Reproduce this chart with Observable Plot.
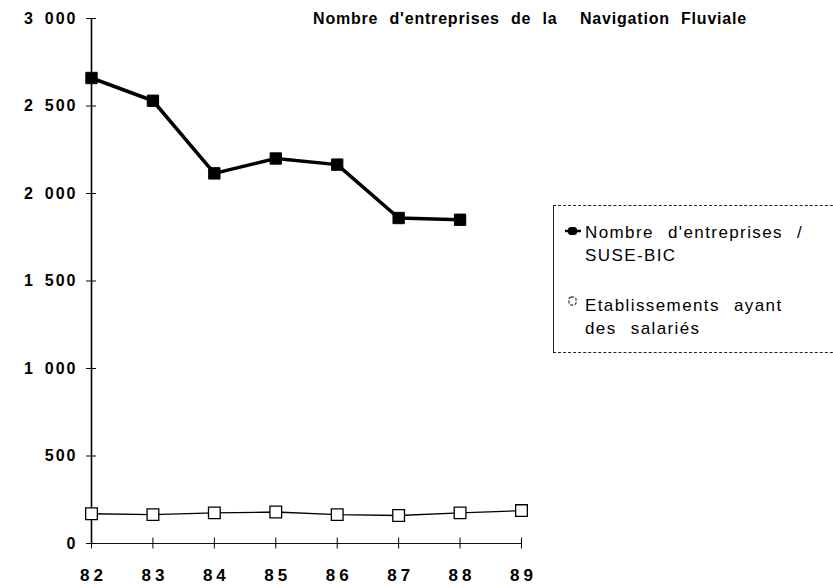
<!DOCTYPE html>
<html>
<head>
<meta charset="utf-8">
<script src="https://cdn.jsdelivr.net/npm/d3@7"></script>
<script src="https://cdn.jsdelivr.net/npm/@observablehq/plot@0.6"></script>
<style>
  html, body { margin: 0; padding: 0; background: #fff; }
  #wrap { position: relative; width: 833px; height: 588px; font-family: "Liberation Sans", Arial, Helvetica, sans-serif; color: #000; overflow: hidden; }
  #title { position: absolute; top: 10px; right: 86px; font-size: 16px; font-weight: bold; letter-spacing: 0.8px; word-spacing: 6px; white-space: nowrap; }
  #legend { position: absolute; left: 553px; top: 205px; width: 300px; height: 148px; border-top: 1px dashed #222; border-bottom: 1px dashed #222; border-left: 1px solid #222; box-sizing: border-box; font-size: 17px; }
  .item { position: absolute; left: 10px; display: flex; align-items: flex-start; }
  .item svg { flex: none; }
  .item span { line-height: 23px; word-spacing: 8px; letter-spacing: 1.4px; margin-left: 3px; }
  svg [aria-label="x-axis tick label"] text { letter-spacing: 4px; }
  svg [aria-label="y-axis tick label"] text { letter-spacing: 2px; }
</style>
</head>
<body>
<div id="wrap">
  <div id="chart"></div>
  <div id="title">Nombre d'entreprises de la&nbsp; Navigation Fluviale</div>
  <div id="legend"></div>
</div>
<script>
// Data
const years = [82, 83, 84, 85, 86, 87, 88, 89];
const entreprisesYears = [82, 83, 84, 85, 86, 87, 88];
const entreprises = [2660, 2530, 2115, 2200, 2165, 1860, 1850];
const etablissements = [170, 165, 175, 180, 165, 160, 175, 188];
const yTicks = [0, 500, 1000, 1500, 2000, 2500, 3000];
const seriesNames = ["Nombre d'entreprises / SUSE-BIC", "Etablissements ayant des salariés"];
const legendLines = [["Nombre d'entreprises /", "SUSE-BIC"], ["Etablissements ayant", "des salariés"]];

const s1 = entreprisesYears.map((x, i) => ({x, y: entreprises[i], s: seriesNames[0]}));
const s2 = years.map((x, i) => ({x, y: etablissements[i], s: seriesNames[1]}));

const fmt = d => d3.format(",")(d).replace(/,/g, "\u2002");

const W = 833, H = 588, mL = 91, mR = 312, mT = 18, mB = 45;
const plotW = W - mL - mR, plotH = H - mT - mB;

const chart = Plot.plot({
  width: W, height: H,
  marginLeft: mL, marginRight: mR, marginTop: mT, marginBottom: mB,
  style: {fontFamily: "'Liberation Sans', Arial, Helvetica, sans-serif", color: "#000", background: "transparent", overflow: "visible"},
  x: {domain: [82, 89]},
  y: {domain: [0, 3000]},
  marks: [
    Plot.ruleX([82], {stroke: "#000", strokeWidth: 1.6}),
    Plot.ruleY([0], {stroke: "#111", strokeWidth: 1}),
    Plot.tickY(yTicks, {y: d => d, stroke: "#000", strokeWidth: 1, insetRight: plotW - 10, dx: -5}),
    Plot.tickX(years, {x: d => d, stroke: "#000", strokeWidth: 1, insetTop: plotH - 11, dy: 5.5}),
    Plot.axisY({ticks: yTicks, tickFormat: fmt, tickSize: 0, tickPadding: 14, fontSize: 16, fontWeight: "bold", label: null}),
    Plot.axisX({ticks: years, tickFormat: d => String(d), tickSize: 0, tickPadding: 25, fontSize: 17, fontWeight: "bold", dx: 2, label: null}),
    Plot.line(s2, {x: "x", y: "y", stroke: "#000", strokeWidth: 1.3}),
    Plot.dot(s2, {x: "x", y: "y", symbol: "square", r: 6.6, fill: "#fff", stroke: "#000", strokeWidth: 1.3}),
    Plot.line(s1, {x: "x", y: "y", stroke: "#000", strokeWidth: 3.5, strokeLinejoin: "round"}),
    Plot.dot(s1, {x: "x", y: "y", symbol: "square", r: 6.4, fill: "#000", stroke: "#000", strokeWidth: 1})
  ]
});
document.getElementById("chart").appendChild(chart);

// Legend
const legend = document.getElementById("legend");
const tops = [15, 88];
legendLines.forEach((lines, i) => {
  const item = document.createElement("div");
  item.className = "item";
  item.style.top = tops[i] + "px";
  const icon = i === 0
    ? `<svg width="18" height="23"><line x1="1" y1="10" x2="17" y2="10" stroke="#000" stroke-width="2.5"/><rect x="4" y="6" width="9" height="8" rx="3" fill="#000"/></svg>`
    : `<svg width="18" height="23"><rect x="5" y="3" width="7" height="8" rx="2" fill="#fff" stroke="#000" stroke-width="1" stroke-dasharray="3,1.5"/></svg>`;
  item.innerHTML = icon + `<span>${lines[0]}<br>${lines[1]}</span>`;
  legend.appendChild(item);
});
</script>
</body>
</html>
